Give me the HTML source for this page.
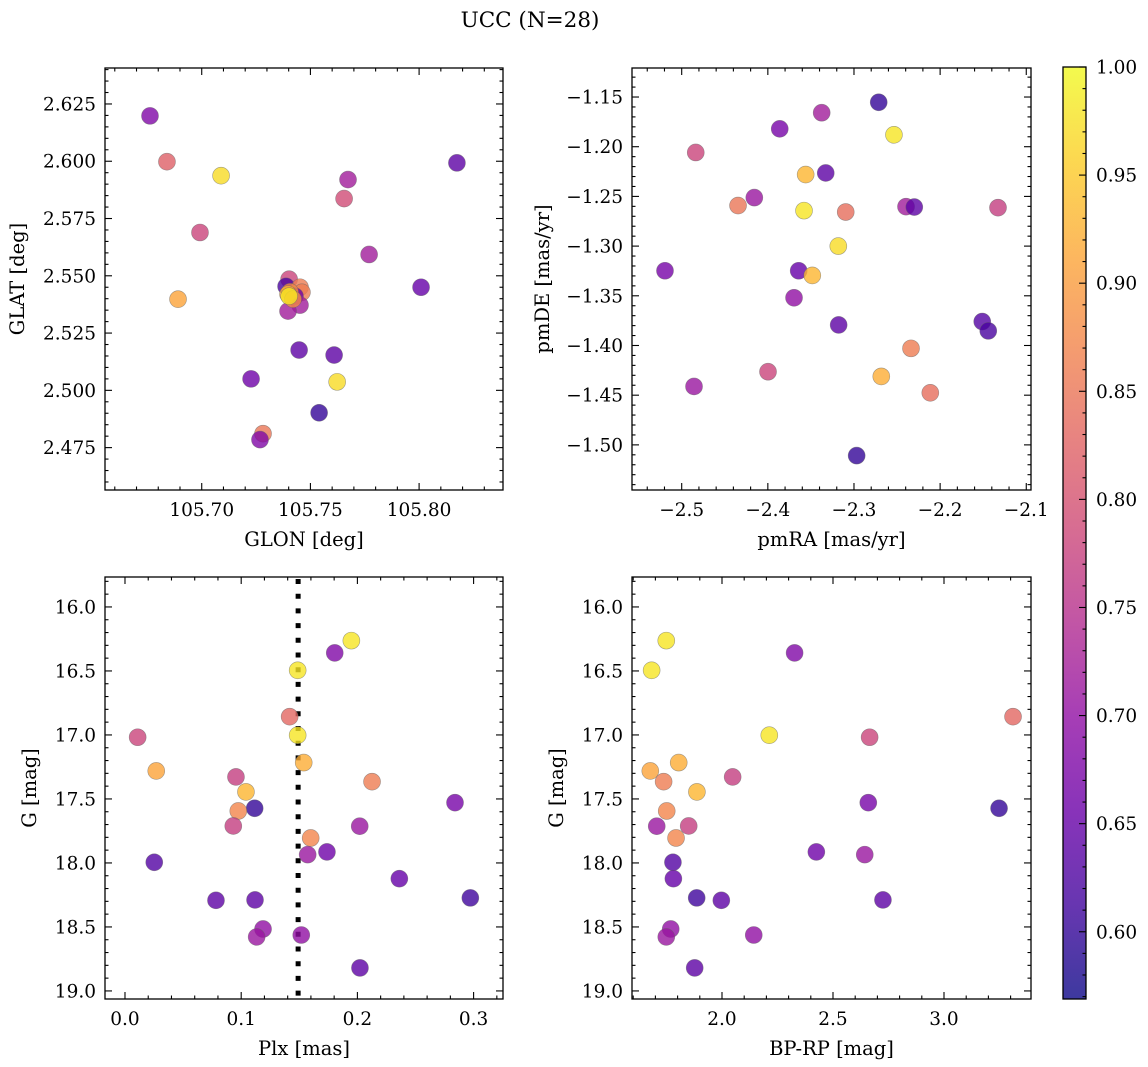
<!DOCTYPE html>
<html><head><meta charset="utf-8"><style>
html,body{margin:0;padding:0;background:#fff;}
svg{display:block;font-family:"DejaVu Serif","Liberation Serif",serif;}
</style></head><body>
<svg id="fig" width="1148" height="1067" viewBox="0 0 1148 1067" xmlns="http://www.w3.org/2000/svg">
<defs><linearGradient id="cbgrad" x1="0" y1="1" x2="0" y2="0"></linearGradient></defs>
<text x="530" y="27" font-size="21.5" text-anchor="middle">UCC (N=28)</text>
</svg>
<script>
// ---- data ----
const glon=[105.6762,105.6840,105.7089,105.6992,105.6891,105.7673,105.7655,105.7770,105.8174,105.8009,105.7448,105.7609,105.7227,105.7623,105.7540,105.7282,105.7268,105.7402,105.7388,105.7452,105.7461,105.7429,105.7406,105.7397,105.7452,105.7397,105.7420,105.7402];
const glat=[2.6198,2.5998,2.5937,2.5689,2.5398,2.5920,2.5837,2.5593,2.5993,2.5450,2.5176,2.5154,2.5050,2.5037,2.4902,2.4811,2.4785,2.5485,2.5454,2.5450,2.5428,2.5411,2.5430,2.5420,2.5372,2.5346,2.5398,2.5411];
const probSky=[0.68,0.82,0.97,0.78,0.91,0.72,0.79,0.72,0.64,0.65,0.64,0.64,0.66,0.97,0.60,0.85,0.68,0.78,0.62,0.86,0.86,0.66,0.88,0.92,0.72,0.72,0.88,0.98];
const pmra=[-2.2713,-2.3375,-2.3862,-2.2536,-2.4837,-2.3561,-2.3328,-2.4157,-2.4346,-2.3580,-2.3096,-2.2396,-2.2300,-2.1328,-2.3182,-2.5194,-2.3642,-2.3484,-2.3696,-2.3178,-2.1511,-2.1441,-2.2338,-2.3998,-2.2683,-2.4857,-2.2114,-2.2969];
const pmde=[-1.1553,-1.1658,-1.1820,-1.1880,-1.2058,-1.2280,-1.2264,-1.2512,-1.2592,-1.2643,-1.2657,-1.2603,-1.2607,-1.2613,-1.3000,-1.3248,-1.3248,-1.3295,-1.3520,-1.3793,-1.3759,-1.3853,-1.4029,-1.4264,-1.4311,-1.4412,-1.4476,-1.5108];
const probPm=[0.60,0.72,0.67,0.98,0.78,0.93,0.64,0.71,0.85,0.98,0.84,0.72,0.64,0.77,0.97,0.67,0.65,0.93,0.70,0.64,0.63,0.62,0.86,0.78,0.92,0.71,0.84,0.60];
const gmag=[16.263,16.359,16.495,16.857,17.018,17.002,17.216,17.281,17.328,17.365,17.445,17.529,17.573,17.594,17.711,17.713,17.805,17.914,17.935,17.995,18.123,18.273,18.292,18.289,18.516,18.578,18.563,18.820];
const plx=[0.1948,0.1805,0.1486,0.1417,0.0109,0.1486,0.1538,0.0269,0.0955,0.2126,0.1041,0.2840,0.1116,0.0975,0.0932,0.2020,0.1598,0.1738,0.1572,0.0252,0.2361,0.2972,0.0783,0.1119,0.1188,0.1133,0.1517,0.2022];
const bprp=[1.749,2.327,1.683,3.311,2.665,2.213,1.805,1.677,2.048,1.737,1.887,2.659,3.248,1.751,1.850,1.706,1.793,2.425,2.643,1.779,1.781,1.886,1.997,2.725,1.769,1.749,2.143,1.877];
const probCmd=[0.98,0.68,0.98,0.83,0.78,0.98,0.92,0.91,0.77,0.86,0.93,0.67,0.60,0.87,0.77,0.71,0.87,0.66,0.71,0.63,0.65,0.61,0.64,0.64,0.70,0.71,0.70,0.64];
const plxRef=[0.149];
const cbTicks=[0.60,0.65,0.70,0.75,0.80,0.85,0.90,0.95,1.00];
const vmin=0.5689, vmax=1.0;

const NS="http://www.w3.org/2000/svg";
const svg=document.getElementById('fig');
function mk(tag,attrs,parent){const e=document.createElementNS(NS,tag);for(const k in attrs)e.setAttribute(k,attrs[k]);(parent||svg).appendChild(e);return e;}
const plasmaStops=[[13,8,135],[65,4,157],[106,0,168],[143,13,164],[177,42,144],[204,71,120],[225,100,98],[242,132,75],[252,166,54],[252,206,37],[240,249,33]];
function plasma(t){t=Math.max(0,Math.min(1,t));const s=t*10,i=Math.min(9,Math.floor(s)),f=s-i;const a=plasmaStops[i],b=plasmaStops[i+1];return 'rgb('+a.map((v,k)=>Math.round(v+(b[k]-v)*f)).join(',')+')';}
function col(p){return plasma((p-vmin)/(vmax-vmin));}
function fmtNum(v,d){const s=Math.abs(v).toFixed(d);return (v<-1e-9?'\u2212':'')+s;}
const TFS=18.5, LFS=19.5;

function panel(cfg){
  const g=mk('g',{});
  
  
  const {L,T,R,B,xmin,xmax,ymin,ymax,inv}=cfg;
  const sx=v=>L+(v-xmin)/(xmax-xmin)*(R-L);
  const sy=v=>inv? T+(v-ymin)/(ymax-ymin)*(B-T) : B-(v-ymin)/(ymax-ymin)*(B-T);
  if(cfg.vline){cfg.vline.forEach(v=>{const l=mk('line',{x1:sx(v),x2:sx(v),y1:T+2,y2:B,stroke:'#000','stroke-width':5,'stroke-dasharray':'5 9.7'},g);
    
    });}
  for(let i=0;i<cfg.xs.length;i++){
    const c=mk('circle',{cx:sx(cfg.xs[i]),cy:sy(cfg.ys[i]),r:8.5,fill:col(cfg.ps[i]),'fill-opacity':0.8,stroke:'#666','stroke-opacity':0.6,'stroke-width':0.6},g);
    
    
  }
  mk('rect',{x:L,y:T,width:R-L,height:B-T,fill:'none',stroke:'#000','stroke-width':1.3},g);
  const tk=(x1,y1,x2,y2)=>mk('line',{x1,y1,x2,y2,stroke:'#000','stroke-width':1.1},g);
  let start=Math.ceil(xmin/cfg.xminor-1e-6);
  for(let k=start;k*cfg.xminor<=xmax+1e-9;k++){const v=k*cfg.xminor,x=sx(v);const major=cfg.xt.some(t=>Math.abs(t-v)<cfg.xminor/3);const len=major?7:3.5;tk(x,B,x,B-len);tk(x,T,x,T+len);}
  start=Math.ceil(ymin/cfg.yminor-1e-6);
  for(let k=start;k*cfg.yminor<=ymax+1e-9;k++){const v=k*cfg.yminor,y=sy(v);const major=cfg.yt.some(t=>Math.abs(t-v)<cfg.yminor/3);const len=major?7:3.5;tk(L,y,L+len,y);tk(R,y,R-len,y);}
  cfg.xt.forEach(v=>{const t=mk('text',{x:sx(v),y:B+26,'font-size':TFS,'text-anchor':'middle'},g);t.textContent=fmtNum(v,cfg.xd);
    
    });
  cfg.yt.forEach(v=>{const t=mk('text',{x:L-9,y:sy(v)+6.5,'font-size':TFS,'text-anchor':'end'},g);t.textContent=fmtNum(v,cfg.yd);
    
    });
  const xl=mk('text',{x:(L+R)/2,y:B+56,'font-size':LFS,'text-anchor':'middle'},g);xl.textContent=cfg.xlabel;
  
  
  const yl=mk('text',{x:0,y:0,'font-size':LFS,'text-anchor':'middle',transform:`translate(${cfg.ylx},${(T+B)/2}) rotate(-90)`},g);yl.textContent=cfg.ylabel;
  
  
}
panel({name:'sky-panel',L:105,T:68,R:503,B:490,xmin:105.6555,xmax:105.8386,ymin:2.4565,ymax:2.6407,xs:glon,ys:glat,ps:probSky,
  xt:[105.70,105.75,105.80],yt:[2.475,2.5,2.525,2.55,2.575,2.6,2.625],xminor:0.01,yminor:0.005,xd:2,yd:3,xlabel:'GLON [deg]',ylabel:'GLAT [deg]',ylx:24});
panel({name:'proper-motion-panel',L:632,T:68,R:1031,B:490,xmin:-2.5577,xmax:-2.0945,ymin:-1.5454,ymax:-1.1208,xs:pmra,ys:pmde,ps:probPm,
  xt:[-2.5,-2.4,-2.3,-2.2,-2.1],yt:[-1.5,-1.45,-1.4,-1.35,-1.3,-1.25,-1.2,-1.15],xminor:0.02,yminor:0.01,xd:1,yd:2,xlabel:'pmRA [mas/yr]',ylabel:'pmDE [mas/yr]',ylx:549});
panel({name:'parallax-panel',L:105,T:577,R:503,B:999,xmin:-0.0172,xmax:0.3253,ymin:15.766,ymax:19.063,inv:true,xs:plx,ys:gmag,ps:probCmd,vline:plxRef,
  xt:[0,0.1,0.2,0.3],yt:[16,16.5,17,17.5,18,18.5,19],xminor:0.02,yminor:0.1,xd:1,yd:1,xlabel:'Plx [mas]',ylabel:'G [mag]',ylx:36});
panel({name:'cmd-panel',L:632,T:577,R:1031,B:999,xmin:1.5946,xmax:3.3919,ymin:15.766,ymax:19.063,inv:true,xs:bprp,ys:gmag,ps:probCmd,
  xt:[2.0,2.5,3.0],yt:[16,16.5,17,17.5,18,18.5,19],xminor:0.1,yminor:0.1,xd:1,yd:1,xlabel:'BP-RP [mag]',ylabel:'G [mag]',ylx:563});
const grad=document.getElementById('cbgrad');
for(let i=0;i<=10;i++){mk('stop',{offset:(i/10),'stop-color':plasma(i/10)},grad);}
const cb=mk('g',{});


const cT=67,cB=999,cL=1063,cR=1086;
mk('rect',{x:cL,y:cT,width:cR-cL,height:cB-cT,fill:'url(#cbgrad)','fill-opacity':0.8},cb);
mk('rect',{x:cL,y:cT,width:cR-cL,height:cB-cT,fill:'none',stroke:'#000','stroke-width':1.3},cb);
const cy=v=>cB-(v-vmin)/(vmax-vmin)*(cB-cT);
for(let k=57;k<=100;k++){const v=k/100;if(v<vmin)continue;const major=k%5===0;mk('line',{x1:cR,x2:cR-(major?7:3.5),y1:cy(v),y2:cy(v),stroke:'#000','stroke-width':1.1},cb);}
cbTicks.forEach(v=>{const t=mk('text',{x:cR+10,y:cy(v)+6.5,'font-size':TFS},cb);t.textContent=v.toFixed(2);
  
  });
</script>
</body></html>
